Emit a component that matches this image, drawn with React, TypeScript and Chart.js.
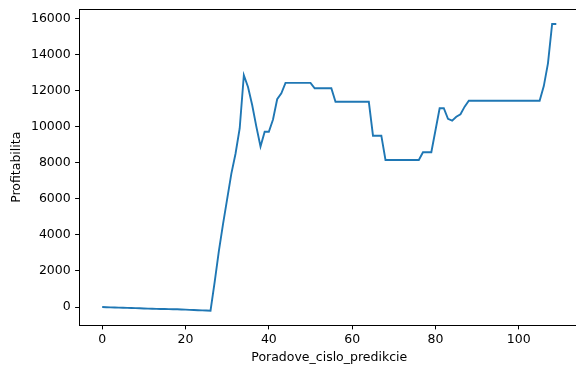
import { useEffect, useRef } from 'react';
import { Chart, registerables } from 'chart.js';

Chart.register(...registerables);

// Prediction order numbers (x) and cumulative profitability (y)
const predictionIndex: number[] = Array.from({ length: 110 }, (_, i) => i);

const profitability: number[] = [
  0, -10, -20, -25, -30, -40, -45, -55, -60, -70,
  -80, -90, -95, -100, -105, -110, -115, -120, -125, -135,
  -145, -155, -165, -175, -185, -195, -205, 1400, 3100, 4600,
  6000, 7400, 8500, 9900, 12850, 12200, 11200, 10000, 8900, 9720,
  9720, 10400, 11520, 11850, 12430, 12430, 12430, 12430, 12430, 12430,
  12430, 12130, 12130, 12130, 12130, 12130, 11380, 11380, 11380, 11380,
  11380, 11380, 11380, 11380, 11380, 9500, 9500, 9500, 8150, 8150,
  8150, 8150, 8150, 8150, 8150, 8150, 8150, 8580, 8580, 8580,
  9800, 11020, 11020, 10430, 10330, 10550, 10690, 11110, 11440, 11440,
  11440, 11440, 11440, 11440, 11440, 11440, 11440, 11440, 11440, 11440,
  11440, 11440, 11440, 11440, 11440, 11440, 12250, 13510, 15690, 15690,
];

const xTickValues: number[] = [0, 20, 40, 60, 80, 100];
const yTickValues: number[] = [0, 2000, 4000, 6000, 8000, 10000, 12000, 14000, 16000];

const xTitle = 'Poradove_cislo_predikcie';
const yTitle = 'Profitabilita';

const FONT = { family: '"DejaVu Sans", sans-serif', size: 12.5 };

// Draws the upper frame line of the plot area
const topSpine = {
  id: 'topSpine',
  afterDraw(chart: any) {
    const { ctx, chartArea } = chart;
    ctx.save();
    ctx.strokeStyle = '#000';
    ctx.lineWidth = 1;
    ctx.beginPath();
    ctx.moveTo(chartArea.left, chartArea.top);
    ctx.lineTo(chartArea.right, chartArea.top);
    ctx.stroke();
    ctx.restore();
  },
};

export default function App() {
  const canvasRef = useRef<HTMLCanvasElement>(null);

  useEffect(() => {
    if (!canvasRef.current) return;
    const chart = new Chart(canvasRef.current, {
      type: 'line',
      data: {
        datasets: [
          {
            data: predictionIndex.map((x, i) => ({ x, y: profitability[i] })),
            borderColor: '#1f77b4',
            borderWidth: 1.9,
            pointRadius: 0,
            fill: false,
            tension: 0,
          },
        ],
      },
      options: {
        animation: false,
        responsive: false,
        devicePixelRatio: 1,
        layout: { padding: { top: 9.5, right: 21, left: 0, bottom: 0 } },
        plugins: {
          legend: { display: false },
          tooltip: { enabled: false },
        },
        scales: {
          x: {
            type: 'linear',
            min: -5.45,
            max: 114.45,
            afterBuildTicks: (scale: any) => {
              scale.ticks = xTickValues.map((value) => ({ value }));
            },
            afterFit: (scale: any) => {
              scale.height = 46;
              scale.paddingLeft = 0;
              scale.paddingRight = 0;
            },
            grid: {
              drawOnChartArea: false,
              drawTicks: true,
              tickLength: 4.4,
              tickColor: '#000',
              tickWidth: 1,
            },
            border: { display: true, color: '#000', width: 1 },
            ticks: {
              color: '#000',
              font: FONT,
              padding: 3,
              maxRotation: 0,
              autoSkip: false,
              callback: (v: any) => String(v),
            },
            title: {
              display: true,
              text: xTitle,
              color: '#000',
              font: FONT,
              padding: { top: 0, bottom: 5.5 },
            },
          },
          y: {
            type: 'linear',
            min: -995,
            max: 16495,
            afterBuildTicks: (scale: any) => {
              scale.ticks = yTickValues.map((value) => ({ value }));
            },
            afterFit: (scale: any) => {
              scale.width = 79.5;
              scale.paddingTop = 0;
              scale.paddingBottom = 0;
            },
            grid: {
              drawOnChartArea: false,
              drawTicks: true,
              tickLength: 4.4,
              tickColor: '#000',
              tickWidth: 1,
            },
            border: { display: true, color: '#000', width: 1 },
            ticks: {
              color: '#000',
              font: FONT,
              padding: 4.4,
              autoSkip: false,
              callback: (v: any) => String(v),
            },
            title: {
              display: true,
              text: yTitle,
              color: '#000',
              font: FONT,
              padding: { top: 9.5, bottom: 0 },
            },
          },
        },
      },
      plugins: [topSpine],
    });
    return () => chart.destroy();
  }, []);

  return (
    <div
      style={{
        position: 'fixed',
        left: 0,
        top: 0,
        width: 576,
        height: 371,
        overflow: 'hidden',
        background: '#fff',
      }}
    >
      <canvas ref={canvasRef} width={600} height={371} style={{ display: 'block' }} />
    </div>
  );
}
